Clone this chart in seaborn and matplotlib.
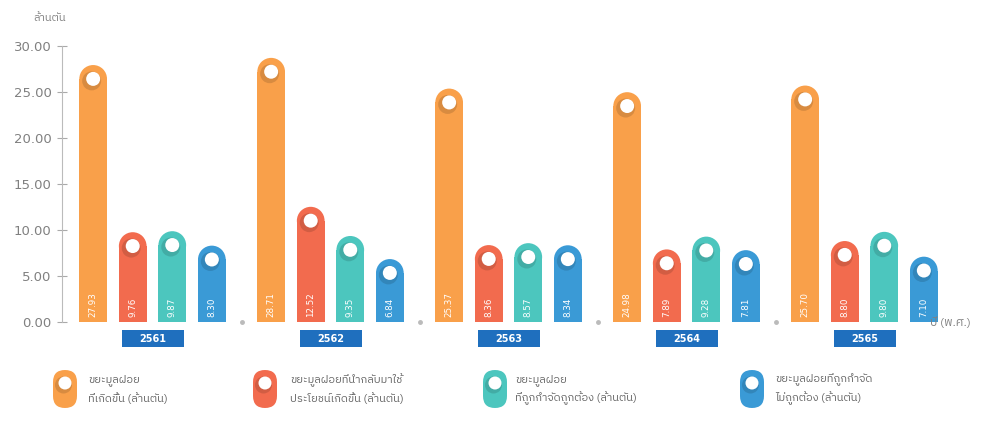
import numpy as np
import pandas as pd
import matplotlib
matplotlib.use("Agg")
import matplotlib.pyplot as plt
import seaborn as sns
from matplotlib import font_manager
from matplotlib.ft2font import FT2Font
from matplotlib.patches import Ellipse, Rectangle, FancyBboxPatch
from matplotlib.transforms import blended_transform_factory

# ---- data -------------------------------------------------------------
years = ["2561", "2562", "2563", "2564", "2565"]
series_labels = [
    "ขยะมูลฝอย\nที่เกิดขึ้น (ล้านตัน)",
    "ขยะมูลฝอยที่นำกลับมาใช้\nประโยชน์เกิดขึ้น (ล้านตัน)",
    "ขยะมูลฝอย\nที่ถูกกำจัดถูกต้อง (ล้านตัน)",
    "ขยะมูลฝอยที่ถูกกำจัด\nไม่ถูกต้อง (ล้านตัน)",
]
generated = [27.93, 28.71, 25.37, 24.98, 25.70]
recycled = [9.76, 12.52, 8.36, 7.89, 8.80]
disposed_ok = [9.87, 9.35, 8.57, 9.28, 9.80]
disposed_bad = [8.30, 6.84, 8.34, 7.81, 7.10]
y_ticks = [0, 5, 10, 15, 20, 25, 30]
y_unit = "ล้านตัน"
x_unit = "ปี (พ.ศ.)"

colors = ["#F9A04A", "#F26B4E", "#4CC6BE", "#3A9AD6"]
year_box_color = "#1F6FBE"
text_grey = "#808080"


def find_thai_family():
    fonts = sorted(
        font_manager.fontManager.ttflist,
        key=lambda f: "thai" not in (f.name + f.fname).lower(),
    )
    for f in fonts:
        try:
            if 0x0E02 in FT2Font(f.fname).get_charmap():
                return f.name
        except Exception:
            continue
    return "DejaVu Sans"


thai = find_thai_family()

sns.set_theme(style="white")
plt.rcParams["font.family"] = [thai, "DejaVu Sans"]

df = pd.DataFrame({
    "year": np.repeat(years, 4),
    "series": series_labels * len(years),
    "value": np.ravel(np.column_stack([generated, recycled, disposed_ok, disposed_bad])),
})

W, H = 1001, 421
fig = plt.figure(figsize=(W / 100, H / 100), dpi=100)
px_per_x = 178.0
x0_px = 62
first_center_px = 152.5
ax_right_px = 925
ax = fig.add_axes([x0_px / W, (H - 322) / H, (ax_right_px - x0_px) / W, 276 / H])
ax.patch.set_alpha(0)

sns.barplot(
    data=df, x="year", y="value", hue="series", hue_order=series_labels,
    palette=colors, width=0.889, gap=0.3, saturation=1, legend=False,
    ax=ax, errorbar=None,
)

xmin = -(first_center_px - x0_px) / px_per_x
xmax = xmin + (ax_right_px - x0_px) / px_per_x
ax.set_xlim(xmin, xmax)
ax.set_ylim(0, 30)
px_per_y = 276 / 30.0

# axis styling
for s in ["top", "right", "bottom"]:
    ax.spines[s].set_visible(False)
ax.spines["left"].set_color("#BBBBBB")
ax.spines["left"].set_linewidth(0.8)
ax.set_yticks(y_ticks)
ax.set_yticklabels([f"{v:.2f}" for v in y_ticks], color=text_grey, fontsize=9.5,
                   family="DejaVu Sans")
ax.tick_params(axis="y", direction="inout", length=7, width=0.8, color="#AAAAAA", pad=4,
               left=True)
ax.set_xticks([])
ax.set_xlabel("")
ax.set_ylabel("")

# pin-shaped bars: rounded cap, white eyelet and vertical value label
for container, color in zip(ax.containers, colors):
    for bar in container:
        val = bar.get_height()
        x = bar.get_x()
        w = bar.get_width()
        xc = x + w / 2
        r_px = w * px_per_x / 2
        ry = r_px / px_per_y
        bar.set_height(val - ry)
        bar.set_linewidth(0)
        bar.set_clip_on(False)
        ax.add_patch(Ellipse((xc, val - ry), w, 2 * ry, facecolor=color,
                             edgecolor="none", zorder=bar.get_zorder(), clip_on=False))
        # soft shadow below the eyelet
        ax.add_patch(Ellipse((xc - 1.5 / px_per_x, val - ry - 2.0 / px_per_y),
                             19 / px_per_x, 19 / px_per_y, facecolor="black",
                             alpha=0.13, edgecolor="none", zorder=3, clip_on=False))
        ax.add_patch(Ellipse((xc, val - ry), 14 / px_per_x, 14 / px_per_y,
                             facecolor="white", edgecolor="none", zorder=4, clip_on=False))
        ax.text(xc, 0.5, f"{val:.2f}", rotation=90, ha="center", va="bottom",
                color="white", fontsize=6.3, zorder=5, family="DejaVu Sans")

# separators between year groups
for i in range(len(years) - 1):
    ax.plot(i + 0.5, 0, marker="o", markersize=2.5, color="#BBBBBB", clip_on=False)

# year boxes under each group
trans = blended_transform_factory(ax.transData, fig.transFigure)
box_w = 62 / px_per_x
for i, yr in enumerate(years):
    ax.add_patch(Rectangle((i - box_w / 2, (H - 347) / H), box_w, 17 / H,
                           transform=trans, facecolor=year_box_color,
                           edgecolor="none", clip_on=False))
    ax.text(i, (H - 338.5) / H, yr, transform=trans, ha="center", va="center",
            color="white", fontsize=7, fontweight="bold", family="DejaVu Sans")

# axis unit labels
fig.text(33 / W, 1 - 18 / H, y_unit, color=text_grey, fontsize=8, va="center", zorder=10)
fig.text(930 / W, 1 - 322 / H, x_unit, color=text_grey, fontsize=8.5, va="center", zorder=10)

# legend row with pin icons
icon_x = [53, 253, 483, 740]
text_x = [88, 290, 515, 775]
for ix, tx, color, label in zip(icon_x, text_x, colors, series_labels):
    iw, ih = 24, 38
    top = H - 370
    fig.patches.append(FancyBboxPatch(
        (ix / W, (top - ih) / H), iw / W, ih / H,
        boxstyle="round,pad=0,rounding_size=0.012", transform=fig.transFigure,
        facecolor=color, edgecolor="none", mutation_aspect=W / H))
    cx, cy = (ix + iw / 2) / W, (top - 13) / H
    fig.patches.append(Ellipse((cx - 1.5 / W, cy - 2 / H), 17 / W, 17 / H,
                               transform=fig.transFigure, facecolor="black",
                               alpha=0.13, edgecolor="none"))
    fig.patches.append(Ellipse((cx, cy), 13 / W, 13 / H, transform=fig.transFigure,
                               facecolor="white", edgecolor="none"))
    l1, l2 = label.split("\n")
    fig.text(tx / W, 1 - 380 / H, l1, color="#666666", fontsize=8, va="center")
    fig.text(tx / W, 1 - 398 / H, l2, color="#666666", fontsize=8, va="center")

fig.savefig("out.png", dpi=100, facecolor="white")
